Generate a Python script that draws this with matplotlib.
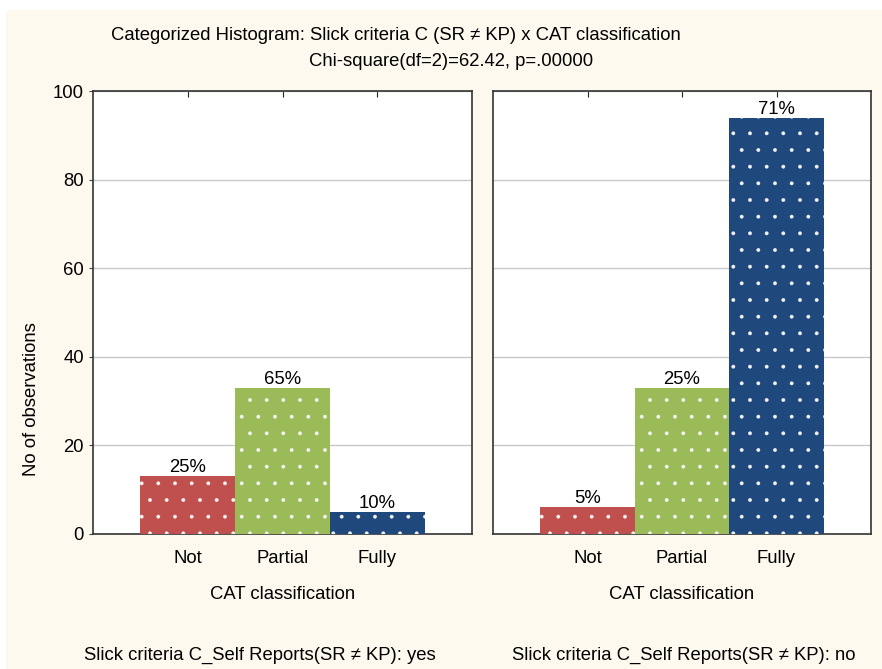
import matplotlib
matplotlib.use("Agg")
import matplotlib.pyplot as plt

# data
categories = ["Not", "Partial", "Fully"]
counts_yes = [13, 33, 5]
counts_no = [6, 33, 94]
pct_yes = ["25%", "65%", "10%"]
pct_no = ["5%", "25%", "71%"]
bar_colors = ["#C0504D", "#9BBB59", "#1F497D"]
yticks = [0, 20, 40, 60, 80, 100]

plt.rcParams['font.family'] = ['Liberation Sans', 'DejaVu Sans']
plt.rcParams['hatch.color'] = '#F4F4F4'
plt.rcParams['hatch.linewidth'] = 0.3

FS = 13.3
W, H = 882, 669
fig = plt.figure(figsize=(W / 100, H / 100), dpi=100)
fig.patch.set_facecolor('white')
# cream background panel
bg = fig.add_axes([6 / W, 0, 1 - 6 / W, 1 - 10 / H])
bg.set_facecolor('#FDF9EE')
bg.set_xticks([])
bg.set_yticks([])
for s in bg.spines.values():
    s.set_visible(False)
bg.set_zorder(-10)


def fig_rect(x0, y0, x1, y1):
    return [x0 / W, 1 - y1 / H, (x1 - x0) / W, (y1 - y0) / H]


ax1 = fig.add_axes(fig_rect(93, 91, 472, 534))
ax2 = fig.add_axes(fig_rect(493, 91, 871, 534))

for ax, counts, pcts in [(ax1, counts_yes, pct_yes), (ax2, counts_no, pct_no)]:
    x = list(range(len(categories)))
    bars = ax.bar(x, counts, width=1.0, color=bar_colors, hatch='.', linewidth=0, zorder=3)
    for b, p in zip(bars, pcts):
        ax.text(b.get_x() + b.get_width() / 2, b.get_height() + 0.9, p,
                ha='center', va='baseline', fontsize=FS, zorder=4)
    ax.set_xlim(-1, 3)
    ax.set_ylim(0, 100)
    ax.set_xticks(x)
    ax.set_xticklabels(categories, fontsize=FS)
    ax.set_yticks(yticks)
    ax.yaxis.grid(True, color='#C8C8C8', linewidth=1)
    ax.set_axisbelow(True)
    ax.tick_params(axis='x', direction='in', top=True, length=4, pad=11.5, color='#222222')
    ax.tick_params(axis='y', direction='out', length=3, labelsize=FS, color='#444444')
    for s in ax.spines.values():
        s.set_color('#333333')
        s.set_linewidth(1.2)
    ax.set_xlabel("CAT classification", fontsize=FS, labelpad=13.5)

ax2.set_yticklabels([])
ax2.tick_params(axis='y', length=0)

fig.text(396 / W, 1 - 36 / H, "Categorized Histogram: Slick criteria C (SR \u2260 KP) x CAT classification",
         ha='center', va='center', fontsize=FS)
fig.text(451 / W, 1 - 61 / H, "Chi-square(df=2)=62.42, p=.00000",
         ha='center', va='center', fontsize=FS)
fig.text(32 / W, 1 - 399 / H, "No of observations", rotation=90,
         ha='center', va='center', fontsize=FS)
fig.text(260 / W, 1 - 655 / H, "Slick criteria C_Self Reports(SR \u2260 KP): yes",
         ha='center', va='center', fontsize=FS)
fig.text(684 / W, 1 - 655 / H, "Slick criteria C_Self Reports(SR \u2260 KP): no",
         ha='center', va='center', fontsize=FS)

fig.savefig("out.png", dpi=100)
